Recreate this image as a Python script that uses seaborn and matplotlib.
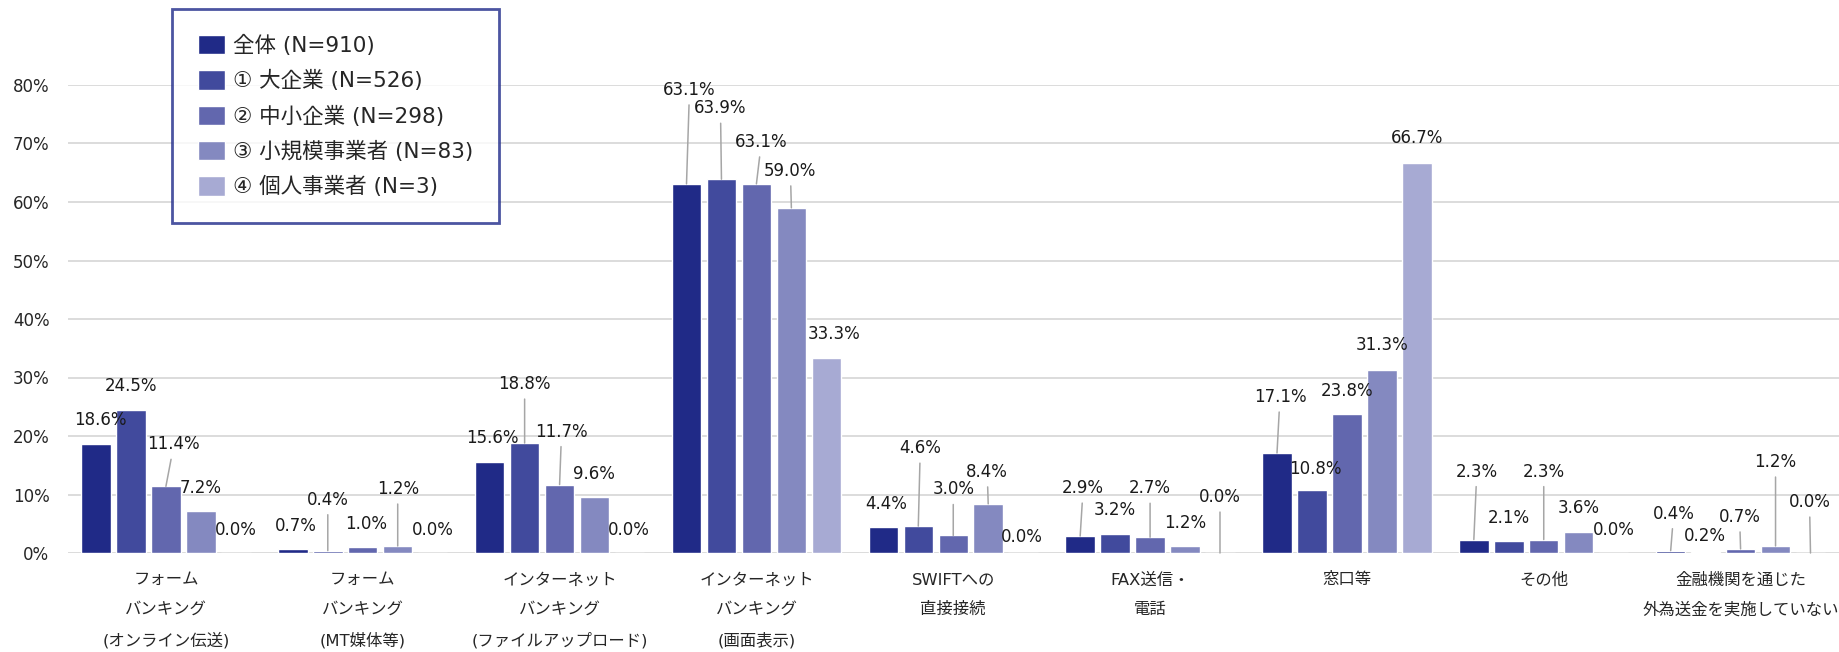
import pandas as pd
import numpy as np
import matplotlib
matplotlib.use('Agg')
import matplotlib.pyplot as plt
import seaborn as sns

sns.set_style('white')
plt.rcParams['font.family'] = ['DejaVu Sans', 'Noto Sans CJK JP']

# データ
categories = [
    'フォーム\nバンキング\n(オンライン伝送)',
    'フォーム\nバンキング\n(MT媒体等)',
    'インターネット\nバンキング\n(ファイルアップロード)',
    'インターネット\nバンキング\n(画面表示)',
    'SWIFTへの\n直接接続',
    'FAX送信・\n電話',
    '窓口等',
    'その他',
    '金融機関を通じた\n外為送金を実施していない',
]
series = ['全体 (N=910)', '① 大企業 (N=526)', '② 中小企業 (N=298)',
          '③ 小規模事業者 (N=83)', '④ 個人事業者 (N=3)']

total = [18.6, 0.7, 15.6, 63.1, 4.4, 2.9, 17.1, 2.3, 0.4]
large = [24.5, 0.4, 18.8, 63.9, 4.6, 3.2, 10.8, 2.1, 0.2]
sme = [11.4, 1.0, 11.7, 63.1, 3.0, 2.7, 23.8, 2.3, 0.7]
small = [7.2, 1.2, 9.6, 59.0, 8.4, 1.2, 31.3, 3.6, 1.2]
individual = [0.0, 0.0, 0.0, 33.3, 0.0, 0.0, 66.7, 0.0, 0.0]

colors = ['#202A87', '#414A9D', '#6267AE', '#8489C0', '#A7AAD3']

# ラベル位置 (ピクセルオフセット dx, dy) と引き出し線の有無
label_offsets = [
    [(4, 24), (3, 23), (3, 24), (3, 94), (3, 23), (3, 48), (3, 56), (3, 68), (3, 37)],
    [(0, 24), (0, 51), (0, 59), (-1, 71), (2, 78), (0, 24), (3, 21), (0, 23), (-1, 16)],
    [(8, 42), (3, 23), (2, 53), (5, 42), (0, 46), (0, 49), (0, 23), (0, 68), (-1, 32)],
    [(0, 23), (0, 57), (-1, 23), (-1, 37), (-1, 32), (0, 23), (0, 25), (0, 24), (0, 84)],
    [(0, 23), (0, 23), (-1, 23), (8, 24), (-1, 16), (0, 56), (0, 25), (0, 23), (-1, 51)],
]
leader = [
    [0, 0, 0, 1, 0, 1, 1, 1, 1],
    [0, 1, 1, 1, 1, 0, 0, 0, 0],
    [1, 0, 1, 1, 1, 1, 0, 1, 1],
    [0, 1, 0, 1, 1, 0, 0, 0, 1],
    [0, 0, 0, 0, 0, 1, 0, 0, 1],
]

values = [total, large, sme, small, individual]
df = pd.DataFrame({
    'category': np.tile(categories, len(series)),
    'series': np.repeat(series, len(categories)),
    'value': np.concatenate(values),
})

fig = plt.figure(figsize=(18.39, 6.52), dpi=100)
ax = fig.add_axes([67.5 / 1839, 99 / 652, 1 - 67.5 / 1839, 468 / 652])

sns.barplot(data=df, x='category', y='value', hue='series',
            order=categories, hue_order=series, palette=colors,
            saturation=1, width=0.888, gap=0.157, errorbar=None, ax=ax)

ax.set_ylim(0, 80)
ax.set_yticks(np.arange(0, 81, 10))
ax.set_yticklabels([f'{int(t)}%' for t in np.arange(0, 81, 10)], fontsize=12)
ax.yaxis.grid(True, color='#D9D9D9', linewidth=1.3)
ax.set_axisbelow(True)
for s in ax.spines.values():
    s.set_visible(False)
ax.tick_params(axis='y', length=0, pad=13)
ax.tick_params(axis='x', length=0, pad=14)
ax.set_xlabel('')
ax.set_ylabel('')
for t in ax.get_xticklabels():
    t.set_fontsize(11.8)
    t.set_linespacing(2.15)
    t.set_verticalalignment('top')

# データラベル
for i, cont in enumerate(ax.containers):
    for j, bar in enumerate(cont):
        cx = bar.get_x() + bar.get_width() / 2
        h = bar.get_height()
        dx, dy = label_offsets[i][j]
        kw = {}
        if leader[i][j]:
            kw['arrowprops'] = dict(arrowstyle='-', color='#A6A6A6', lw=1.1,
                                    shrinkA=2, shrinkB=0)
        ax.annotate(f'{values[i][j]:.1f}%', xy=(cx, h), xytext=(dx, dy),
                    textcoords='offset pixels', ha='center', va='center',
                    fontsize=12, color='#1A1A1A', annotation_clip=False, **kw)

# 凡例
handles, labels = ax.get_legend_handles_labels()
leg = ax.legend(handles, labels, loc='upper left',
                bbox_to_anchor=(172 / 1839, 1 - 9 / 652),
                bbox_transform=fig.transFigure, borderaxespad=0,
                fontsize=15.5, frameon=True, fancybox=False,
                handlelength=1.25, handleheight=1.0, handletextpad=0.4,
                labelspacing=0.66, borderpad=1.2)
leg.get_frame().set_edgecolor('#1F2A8A')
leg.get_frame().set_linewidth(2)

fig.savefig('out.png', dpi=100)
